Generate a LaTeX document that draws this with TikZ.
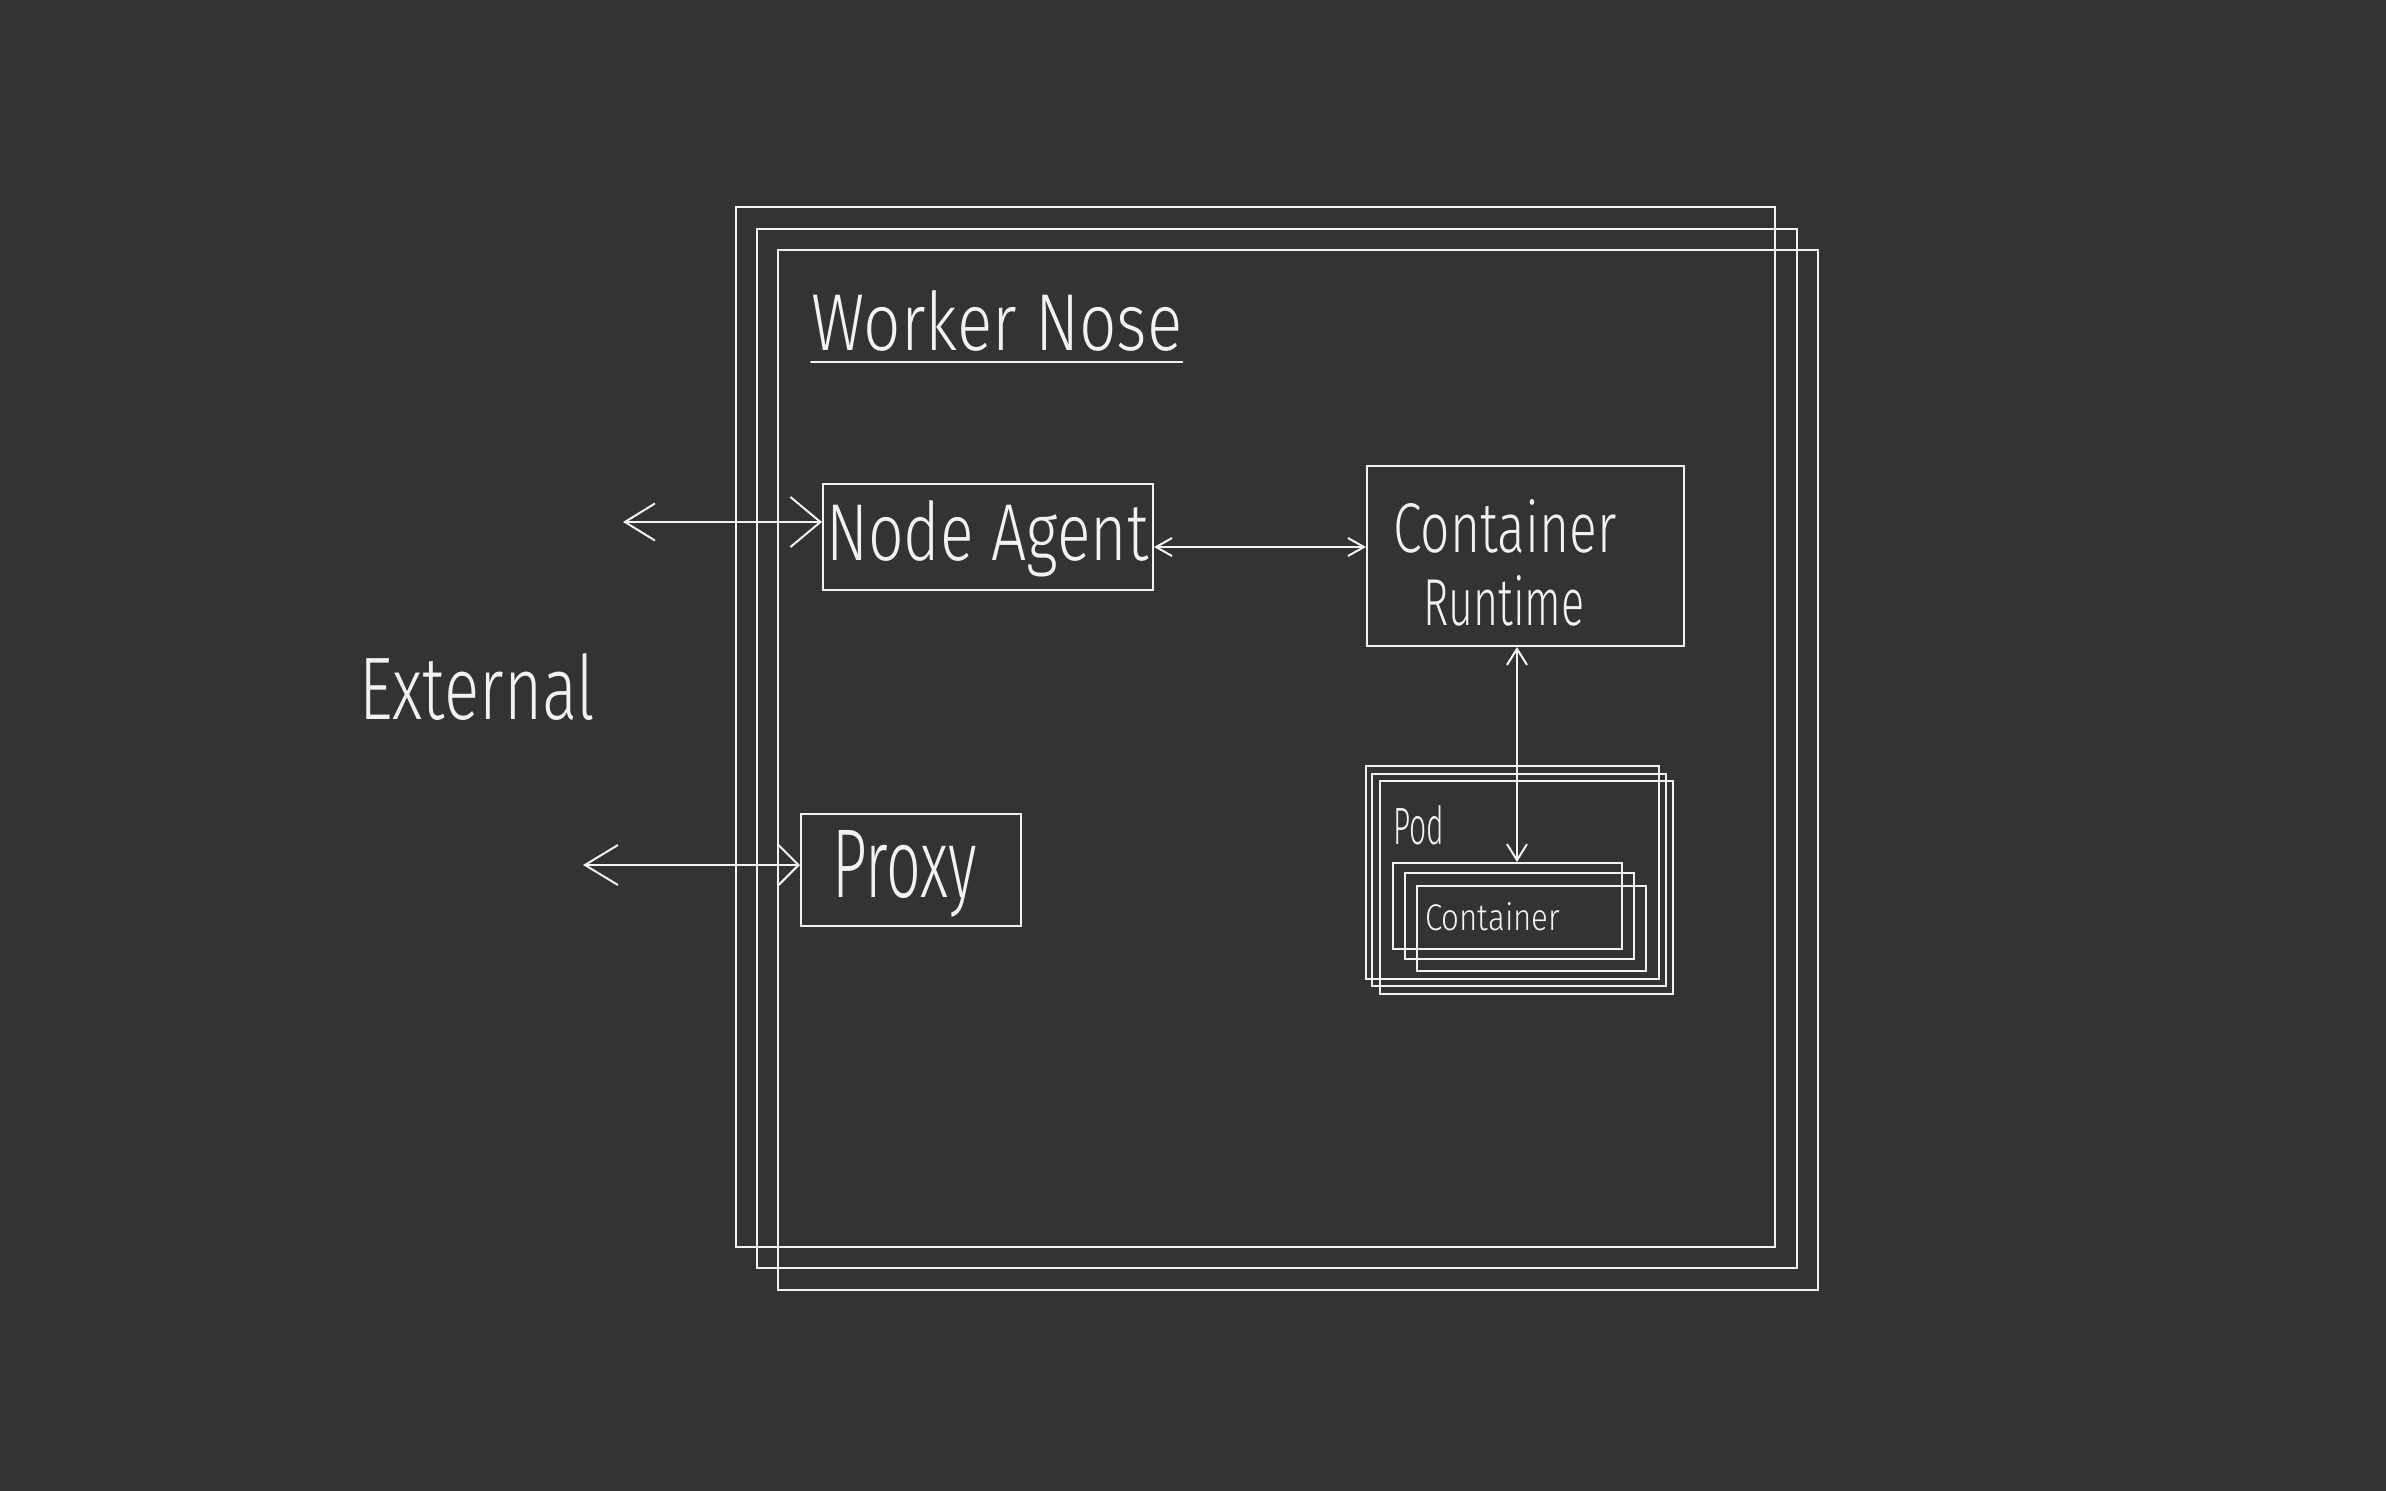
\documentclass[tikz,border=0pt]{standalone}
\usepackage{fontspec}
\setmainfont{Fira Sans Light}
\usetikzlibrary{arrows.meta}
\definecolor{bg}{HTML}{333333}
\definecolor{ink}{HTML}{F2F2F2}
\newcommand{\hw}[3]{\resizebox{#1}{#2}{#3}}
\tikzset{
  box/.style={draw=ink, line width=2pt, inner sep=0pt, minimum width=#1},
  lbl/.style={text=ink, inner sep=0pt, anchor=base west},
  conn/.style={draw=ink, line width=2pt, line cap=round},
}
\begin{document}
\begin{tikzpicture}[x=1pt,y=-1pt]
\fill[bg] (0,0) rectangle (2386,1491);
\useasboundingbox (0,0) rectangle (2386,1491);
% worker node frames
\node[box=1039pt, minimum height=1040pt] (fr1) at (1255.5,727) {};
\node[box=1040pt, minimum height=1039pt] (fr2) at (1277,748.5) {};
\node[box=1040pt, minimum height=1040pt] (fr3) at (1298,770) {};
% title
\node[lbl] (title) at (811,350) {\hw{371pt}{60pt}{Worker Nose}};
\draw[conn] ([yshift=-12pt]title.base west) -- ([yshift=-12pt]title.base east);
% components
\node[box=330pt, minimum height=106pt] (NA) at (988,537) {};
\node[box=317pt, minimum height=180pt] (CR) at (1525.5,556) {};
\node[box=220pt, minimum height=112pt] (PX) at (911,870) {};
% pod frames
\node[box=293pt, minimum height=213pt] (P1) at (1512.5,872.5) {};
\node[box=294pt, minimum height=212pt] (P2) at (1519,880) {};
\node[box=293pt, minimum height=213pt] (P3) at (1526.5,887.5) {};
\node[box=229pt, minimum height=86pt] (C1) at (1507.5,906) {};
\node[box=229pt, minimum height=86pt] (C2) at (1519.5,916) {};
\node[box=229pt, minimum height=85pt] (C3) at (1531.5,928.5) {};
% labels
\node[lbl] (ext) at (359,719) {\hw{236pt}{66pt}{External}};
\node[lbl] (natext) at (826,560) {\hw{322pt}{60pt}{Node Agent}};
\node[lbl] (crtext1) at (1393,552) {\hw{223pt}{53pt}{Container}};
\node[lbl] (crtext2) at (1423,625) {\hw{161pt}{50pt}{Runtime}};
\node[lbl] (pxtext) at (832,897) {\hw{145pt}{67pt}{Proxy}};
\node[lbl] (podtext) at (1393,844) {\hw{51pt}{39pt}{Pod}};
\node[lbl] (ctext) at (1425,930) {\hw{135pt}{28pt}{Container}};
% connectors
\coordinate (ext1) at (623,522);
\coordinate (ext2) at (583,865);
\coordinate (y1) at (0,547);
\coordinate (x1) at (1517,0);
\draw[conn, {Straight Barb[length=30pt,width=37pt]}-{Straight Barb[length=30pt,width=50pt]}] (ext1) -- (NA.west |- ext1);
\draw[conn, {Straight Barb[length=33pt,width=40pt]}-{Straight Barb[length=20pt,width=40pt]}] (ext2) -- (PX.west |- ext2);
\draw[conn, {Straight Barb[length=16pt,width=18pt]}-{Straight Barb[length=16pt,width=18pt]}] (NA.east |- y1) -- (CR.west |- y1);
\draw[conn, {Straight Barb[length=16pt,width=20pt]}-{Straight Barb[length=16pt,width=20pt]}] (CR.south -| x1) -- (C1.north -| x1);
\end{tikzpicture}
\end{document}
